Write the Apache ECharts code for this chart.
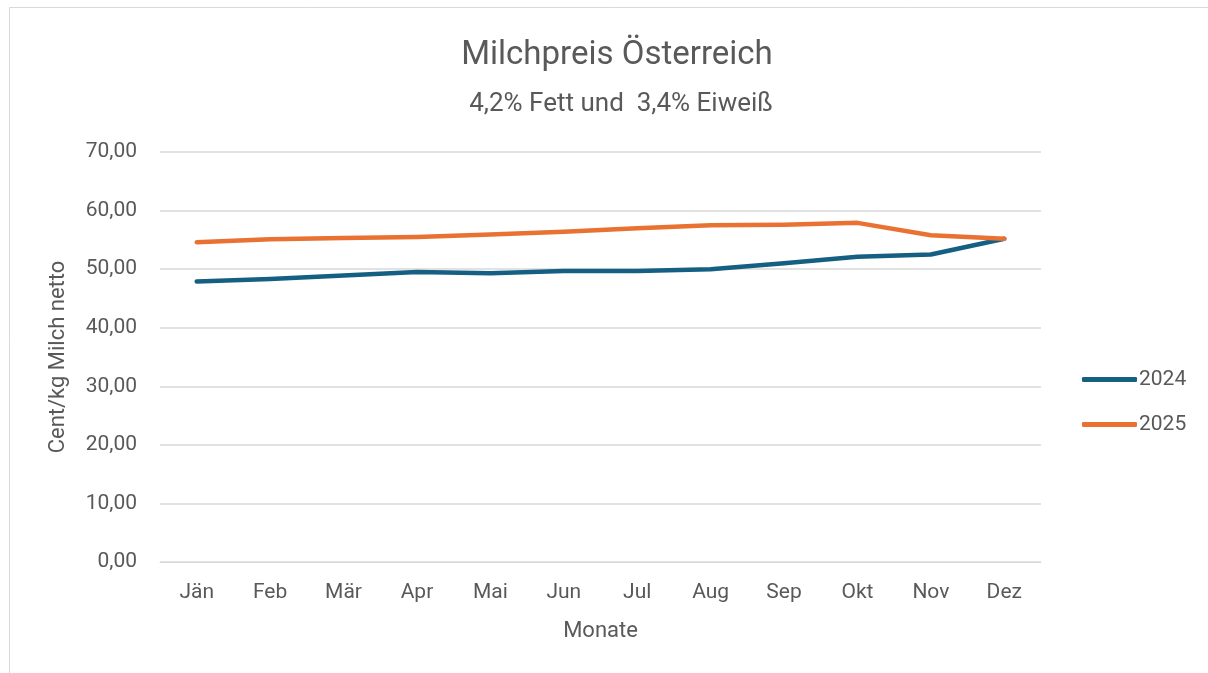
<!DOCTYPE html>
<html>
<head>
<meta charset="utf-8">
<script src="https://cdn.jsdelivr.net/npm/echarts@6/dist/echarts.min.js"></script>
<style>
  html, body { margin: 0; padding: 0; background: #fff; }
  #chart { width: 1208px; height: 673px; }
</style>
</head>
<body>
<div id="chart"></div>
<script>
// Monate und Milchpreise (Cent/kg netto)
var months = ['Jän', 'Feb', 'Mär', 'Apr', 'Mai', 'Jun', 'Jul', 'Aug', 'Sep', 'Okt', 'Nov', 'Dez']
var price2024 = [47.9, 48.3, 48.9, 49.5, 49.3, 49.7, 49.7, 50.0, 51.0, 52.1, 52.5, 55.2]
var price2025 = [54.6, 55.1, 55.3, 55.5, 55.9, 56.4, 57.0, 57.5, 57.6, 57.9, 55.8, 55.2]

var textColor = '#595959'
var fontFamily = 'Roboto, "Open Sans", sans-serif'

var chart = echarts.init(document.getElementById('chart'))
chart.setOption({
  animation: false,
  textStyle: { fontFamily: fontFamily },
  graphic: [{
    type: 'rect',
    shape: { x: 9.5, y: 7.5, width: 1220, height: 700 },
    style: { fill: null, stroke: '#d9d9d9', lineWidth: 1 }
  }],
  title: [{
    text: 'Milchpreis Österreich',
    left: 612,
    textAlign: 'center',
    top: 34,
    textStyle: { color: textColor, fontSize: 33, fontWeight: 'normal', fontFamily: fontFamily }
  }, {
    text: '4,2% Fett und  3,4% Eiweiß',
    left: 616,
    textAlign: 'center',
    top: 86,
    textStyle: { color: textColor, fontSize: 26, fontWeight: 'normal', fontFamily: fontFamily }
  }],
  legend: {
    orient: 'vertical',
    left: 1077,
    top: 364,
    itemWidth: 55,
    itemHeight: 5,
    itemGap: 24,
    icon: 'roundRect',
    textStyle: { color: textColor, fontSize: 21, padding: [0, 0, 0, -3] },
    data: ['2024', '2025']
  },
  grid: {
    left: 160,
    right: 167,
    top: 152,
    bottom: 111
  },
  xAxis: {
    type: 'category',
    data: months,
    boundaryGap: true,
    name: 'Monate',
    nameLocation: 'middle',
    nameGap: 58,
    nameTextStyle: { color: textColor, fontSize: 22 },
    axisLine: { lineStyle: { color: '#d9d9d9', width: 1 } },
    axisTick: { show: false },
    axisLabel: { color: textColor, fontSize: 21, margin: 20 }
  },
  yAxis: {
    type: 'value',
    min: 0,
    max: 70,
    interval: 10,
    name: 'Cent/kg Milch netto',
    nameLocation: 'middle',
    nameGap: 91,
    nameTextStyle: { color: textColor, fontSize: 22 },
    axisLine: { show: false },
    axisTick: { show: false },
    axisLabel: {
      color: textColor,
      fontSize: 21,
      margin: 23,
      formatter: function (v) { return v.toFixed(2).replace('.', ',') }
    },
    splitLine: { lineStyle: { color: '#d9d9d9', width: 1.5 } }
  },
  series: [{
    name: '2024',
    type: 'line',
    data: price2024,
    symbol: 'none',
    color: '#156082',
    lineStyle: { color: '#156082', width: 4.5, cap: 'round', join: 'round' }
  }, {
    name: '2025',
    type: 'line',
    data: price2025,
    symbol: 'none',
    color: '#E97132',
    lineStyle: { color: '#E97132', width: 4.5, cap: 'round', join: 'round' }
  }]
})
</script>
</body>
</html>
